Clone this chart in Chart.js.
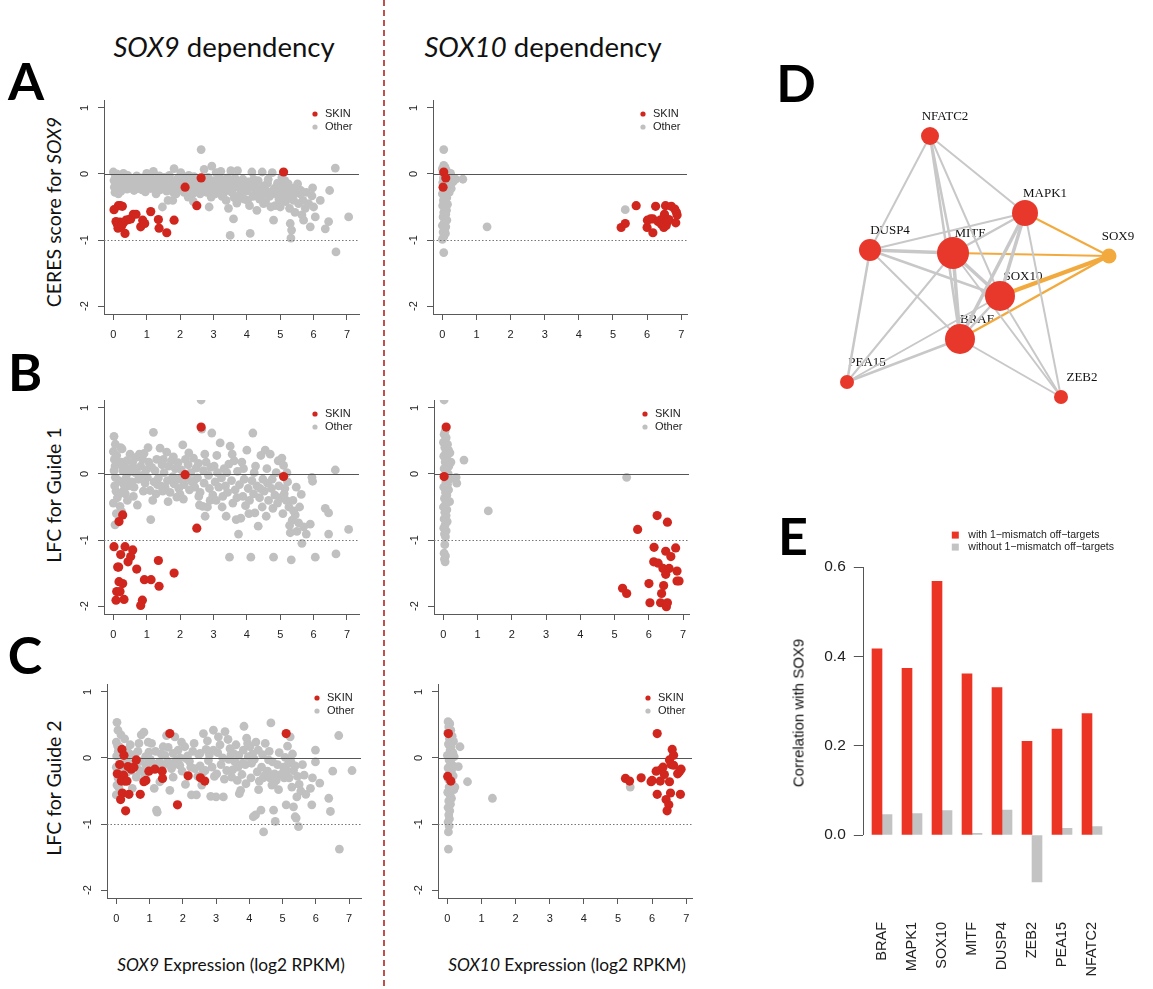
<!DOCTYPE html>
<html lang="en">
<head>
<meta charset="UTF-8">
<title>SOX9 / SOX10 dependency</title>
<style>
  body { margin: 0; width: 1153px; height: 989px; position: relative; overflow: hidden; background: #fff;
         font-family: Lato, 'Open Sans', sans-serif; color: #111; }
  canvas { position: absolute; }
  .txt { position: absolute; transform: translate(-50%, -50%); white-space: nowrap; line-height: 1; }
  .letter { font-weight: 700; font-size: 52px; color: #000; }
  .coltitle { font-size: 27.5px; }
  .ytitle { font-size: 19.5px; transform: translate(-50%, -50%) rotate(-90deg); }
  .xtitle { font-size: 17.3px; }
  .divider { position: absolute; left: 383px; top: 0; width: 1.6px; height: 989px;
             background: repeating-linear-gradient(to bottom, #c0504d 0 6px, transparent 6px 10px); }
</style>
</head>
<body>
<script src="https://cdn.jsdelivr.net/npm/chart.js@4.4.1/dist/chart.umd.min.js"></script>

<div class="divider"></div>
<div class="txt coltitle" style="left:224px;top:47px"><i>SOX9</i> dependency</div>
<div class="txt coltitle" style="left:543px;top:47px"><i>SOX10</i> dependency</div>

<div class="txt letter" style="left:26px;top:80px">A</div>
<div class="txt letter" style="left:25px;top:371px">B</div>
<div class="txt letter" style="left:25px;top:654px">C</div>
<div class="txt letter" style="left:796px;top:82px">D</div>
<div class="txt letter" style="left:793px;top:535px">E</div>

<div class="txt ytitle" style="left:54px;top:212px">CERES score for <i>SOX9</i></div>
<div class="txt ytitle" style="left:54px;top:495px">LFC for Guide 1</div>
<div class="txt ytitle" style="left:54px;top:788px">LFC for Guide 2</div>
<div class="txt xtitle" style="left:231px;top:965px"><i>SOX9</i> Expression (log2 RPKM)</div>
<div class="txt xtitle" style="left:567px;top:965px"><i>SOX10</i> Expression (log2 RPKM)</div>

<script>
// ---- dependency scatter data: [expression, score] per cell line ----
const exprTicks = [0, 1, 2, 3, 4, 5, 6, 7];
const scoreTicks = [-2, -1, 0, 1];

const sox9CeresSkin = [
  [0.02,-0.54],[0.15,-0.48],[0.21,-0.48],[0.27,-0.49],[0.08,-0.72],[0.12,-0.76],[0.16,-0.80],[0.20,-0.73],
  [0.24,-0.79],[0.14,-0.82],[0.26,-0.77],[0.30,-0.74],[0.38,-0.70],[0.46,-0.69],[0.52,-0.68],[0.60,-0.61],
  [0.68,-0.61],[0.35,-0.90],[0.82,-0.80],[0.88,-0.70],[0.94,-0.75],[1.12,-0.57],[1.35,-0.69],[1.37,-0.82],
  [1.60,-0.89],[1.82,-0.70],[2.15,-0.20],[2.50,-0.48],[2.63,-0.06],[5.10,0.03]
];
const sox9CeresOther = [
  [0.00,0.03],[0.02,-0.10],[0.03,-0.20],[0.05,-0.28],[0.06,-0.05],[0.08,-0.15],[0.10,0.00],[0.11,-0.24],
  [0.13,-0.12],[0.15,-0.30],[0.17,-0.06],[0.19,-0.18],[0.21,-0.10],[0.23,-0.26],[0.25,-0.02],[0.27,-0.14],
  [0.30,0.01],[0.32,-0.20],[0.35,-0.09],[0.38,-0.16],[0.41,-0.23],[0.44,-0.11],[0.47,-0.17],
  [0.52,-0.08],[0.55,-0.20],[0.58,-0.13],[0.62,-0.25],[0.65,-0.05],[0.68,-0.17],[0.72,-0.10],[0.76,-0.22],
  [0.80,-0.14],[0.84,-0.06],[0.88,-0.19],[0.92,-0.11],[0.96,-0.27],[1.00,0.01],
  [1.04,-0.15],[1.08,-0.08],[1.12,-0.22],[1.16,-0.12],[1.20,0.04],[1.24,-0.18],[1.28,-0.30],[1.32,-0.07],
  [1.36,-0.16],[1.40,-0.24],[1.44,-0.10],[1.47,-0.50],[1.48,-0.19],
  [1.52,-0.05],[1.56,-0.14],[1.60,-0.26],[1.64,-0.40],[1.66,-0.09],[1.70,-0.20],[1.74,-0.12],[1.78,-0.40],
  [1.80,-0.28],[1.82,0.08],[1.86,-0.16],[1.90,-0.08],[1.94,-0.22],[1.98,-0.13],
  [2.02,0.02],[2.05,-0.18],[2.08,-0.10],[2.12,-0.28],[2.16,-0.06],[2.20,-0.15],[2.24,-0.35],[2.28,-0.22],
  [2.32,-0.11],[2.36,-0.19],[2.40,-0.42],[2.42,-0.04],[2.46,-0.25],[2.48,-0.14],
  [2.52,-0.20],[2.56,-0.08],[2.60,-0.30],[2.63,0.37],[2.66,-0.16],[2.70,-0.24],[2.72,0.07],[2.76,-0.12],
  [2.80,-0.28],[2.84,-0.05],[2.87,-0.50],[2.90,-0.18],[2.95,0.12],[2.98,-0.22],
  [3.02,-0.10],[3.05,-0.30],[3.08,0.02],[3.12,-0.17],[3.16,-0.25],[3.20,-0.08],[3.22,0.04],[3.26,-0.34],
  [3.30,-0.14],[3.34,-0.22],[3.38,-0.40],[3.42,-0.06],[3.45,-0.52],[3.48,-0.18],
  [3.50,-0.93],[3.52,0.05],[3.55,-0.28],[3.58,-0.12],[3.60,-0.68],[3.62,-0.36],[3.66,-0.20],[3.70,-0.44],
  [3.72,0.05],[3.76,-0.15],[3.80,-0.30],[3.84,-0.24],[3.88,-0.08],[3.92,-0.38],[3.96,-0.18],
  [4.00,-0.26],[4.04,-0.12],[4.08,-0.48],[4.10,-0.90],[4.12,-0.20],[4.15,0.03],[4.18,-0.34],[4.22,-0.16],
  [4.26,-0.28],[4.30,-0.55],[4.34,-0.10],[4.38,-0.38],[4.42,-0.22],[4.46,0.03],[4.48,-0.30],
  [4.52,-0.18],[4.56,-0.42],[4.60,-0.26],[4.64,-0.08],[4.68,-0.34],[4.72,-0.50],[4.76,0.02],[4.80,-0.70],
  [4.82,-0.22],[4.85,-0.48],[4.88,-0.30],[4.92,-0.14],[4.96,-0.38],
  [5.02,-0.25],[5.05,-0.05],[5.08,-0.32],[5.12,-0.18],[5.16,-0.42],[5.20,-0.28],[5.24,-0.15],[5.28,-0.52],
  [5.30,-0.75],[5.32,-0.97],[5.34,-0.85],[5.36,-0.22],[5.40,-0.40],[5.44,-0.58],[5.48,-0.20],
  [5.55,-0.45],[5.60,-0.30],[5.65,-0.62],[5.68,-0.40],[5.75,-0.52],[5.78,-0.28],[5.90,-0.80],[5.95,-0.33],
  [5.97,-0.21],[6.05,-0.65],[6.35,-0.83],[6.45,-0.72],[6.48,-0.25],[6.65,0.09],[6.67,-1.18],[7.05,-0.65],
  [0.07,-0.08],[0.18,-0.22],[0.29,-0.07],[0.43,-0.02],[0.57,-0.16],[0.70,-0.03],[0.86,-0.24],[0.99,-0.13],
  [1.10,-0.04],[1.26,-0.10],[1.38,-0.03],[1.54,-0.20],[1.68,-0.02],[1.88,-0.30],[2.00,-0.22],[2.14,-0.14],
  [2.26,-0.02],[2.38,-0.30],[2.54,-0.12],[2.68,-0.06],[2.82,-0.16],[2.93,-0.35],[3.04,-0.20],[3.18,-0.04],
  [3.32,-0.28],[3.46,-0.12],[3.64,-0.06],[3.78,-0.36],[3.90,-0.20],[4.02,-0.40],[4.20,-0.08],[4.36,-0.24],
  [4.50,-0.45],[4.62,-0.14],[4.74,-0.30],[4.90,-0.22],[5.00,-0.50],[5.14,-0.10],[5.26,-0.34],[5.42,-0.30],
  [5.52,-0.15],[5.62,-0.25],[5.70,-0.70],[5.85,-0.45],[6.00,-0.50],[6.20,-0.40]
];

const sox9Lfc1Skin = [
  [2.63,0.71],[2.15,-0.01],[5.10,-0.04],[2.50,-0.82],[0.28,-0.62],[0.17,-0.72],[0.02,-1.10],[0.35,-1.10],
  [0.22,-1.22],[0.58,-1.15],[0.52,-1.25],[0.44,-1.33],[0.13,-1.41],[0.16,-1.41],[0.70,-1.44],[1.35,-1.31],
  [1.82,-1.50],[0.17,-1.63],[0.28,-1.66],[0.93,-1.60],[1.13,-1.60],[1.37,-1.70],[0.10,-1.78],[0.20,-1.78],
  [0.08,-1.91],[0.32,-1.90],[0.87,-1.91],[0.82,-1.99]
];
const sox9Lfc1Other = [
  [0.02,0.57],[0.00,0.34],[0.03,0.22],[0.05,0.12],[0.02,0.05],[0.06,-0.05],[0.04,-0.18],[0.08,-0.26],
  [0.10,0.28],[0.12,-0.36],[0.00,-0.44],[0.05,-0.77],[0.14,0.15],[0.16,-0.10],[0.18,-0.30],[0.20,-0.49],
  [0.22,0.40],[0.25,-0.57],[0.26,0.38],[0.28,0.05],[0.30,-0.15],[0.32,-0.24],[0.35,0.10],[0.38,-0.06],
  [0.40,0.20],[0.42,-0.40],[0.45,0.02],[0.48,-0.18],
  [0.52,0.08],[0.55,-0.12],[0.58,0.18],[0.62,-0.20],[0.65,0.02],[0.68,0.25],[0.72,-0.47],[0.75,-0.08],
  [0.78,0.30],[0.82,0.12],[0.85,-0.02],[0.88,0.22],[0.92,0.31],[0.95,-0.14],[0.98,0.06],
  [1.02,-0.05],[1.06,0.18],[1.10,-0.25],[1.12,-0.69],[1.15,0.10],[1.20,0.63],[1.22,-0.12],[1.25,0.05],
  [1.28,-0.30],[1.30,0.22],[1.35,-0.06],[1.40,0.39],[1.42,-0.18],[1.46,0.14],[1.48,-0.26],
  [1.52,0.02],[1.55,-0.20],[1.60,0.33],[1.62,-0.10],[1.66,0.12],[1.70,-0.28],[1.74,0.20],[1.78,-0.04],
  [1.82,-0.15],[1.86,0.08],[1.90,-0.35],[1.94,0.17],[1.97,-0.08],
  [2.00,-0.31],[2.04,0.06],[2.08,0.44],[2.12,-0.16],[2.16,0.22],[2.20,-0.06],[2.24,0.14],[2.28,-0.24],
  [2.32,0.02],[2.36,-0.12],[2.40,0.24],[2.44,-0.20],[2.48,0.09],
  [2.52,-0.06],[2.55,0.16],[2.58,-0.47],[2.60,-0.28],[2.63,1.12],[2.65,0.68],[2.68,-0.49],[2.70,0.05],
  [2.72,-0.14],[2.75,-0.64],[2.78,0.18],[2.82,-0.50],[2.85,-0.02],[2.88,-0.22],[2.92,0.10],[2.95,0.62],
  [2.98,-0.32],
  [3.02,0.12],[3.05,-0.12],[3.08,-0.40],[3.12,0.02],[3.16,-0.20],[3.20,0.47],[3.24,-0.06],[3.28,-0.34],
  [3.32,0.08],[3.36,-0.18],[3.38,-0.64],[3.42,-0.28],[3.46,0.15],[3.48,-1.26],[3.50,0.42],
  [3.54,-0.10],[3.58,-0.44],[3.62,0.20],[3.65,-0.24],[3.68,-0.69],[3.72,0.04],[3.75,-0.91],[3.78,-0.16],
  [3.82,-0.67],[3.85,0.18],[3.88,-0.34],[3.92,-0.08],[3.96,-0.48],
  [4.00,0.36],[4.04,-0.22],[4.08,-0.40],[4.12,-1.26],[4.15,-0.10],[4.18,0.62],[4.20,-0.30],[4.24,-0.59],
  [4.26,0.12],[4.30,-0.18],[4.34,-0.79],[4.38,-0.36],[4.42,0.28],[4.46,-0.50],[4.48,-0.08],
  [4.52,-0.26],[4.55,0.36],[4.58,-0.64],[4.62,-0.14],[4.65,-0.40],[4.70,0.30],[4.74,-0.22],[4.78,-0.52],
  [4.80,-1.26],[4.84,-0.32],[4.88,0.02],[4.92,-0.44],[4.96,-0.18],
  [5.02,-0.36],[5.05,0.24],[5.08,-0.60],[5.10,0.13],[5.14,-0.22],[5.18,-0.40],[5.22,-0.12],[5.26,-0.50],
  [5.28,-0.78],[5.30,-0.89],[5.33,-1.30],[5.36,-0.70],[5.40,-0.56],[5.45,-0.62],[5.50,-0.87],
  [5.55,-0.74],[5.63,-0.31],[5.65,-1.05],[5.78,-0.91],[5.90,-0.76],[5.95,-0.05],[5.97,-0.11],[6.05,-1.26],
  [6.35,-0.52],[6.45,-0.59],[6.45,-0.91],[6.65,0.06],[6.67,-1.21],[7.05,-0.84],
  [0.06,0.45],[0.09,-0.60],[0.24,0.18],[0.36,-0.30],[0.50,0.30],[0.60,-0.34],[0.70,0.08],[0.90,-0.26],
  [1.04,0.40],[1.18,-0.40],[1.32,-0.16],[1.50,0.22],[1.64,-0.42],[1.80,0.26],[1.96,-0.22],[2.10,-0.38],
  [2.26,0.32],[2.42,-0.10],[2.56,-0.34],[2.74,0.30],[2.90,-0.40],[3.10,0.28],[3.26,-0.50],[3.40,0.02],
  [3.56,0.30],[3.70,-0.36],[3.90,0.08],[4.06,-0.60],[4.22,0.02],[4.40,-0.22],[4.60,0.08],[4.76,-0.08],
  [4.94,0.20],[5.12,-0.30],[5.20,0.02],[5.38,-0.40],[5.48,-0.20],[5.58,-0.50],[5.70,-0.80]
];

const sox9Lfc2Skin = [
  [1.61,0.37],[5.11,0.37],[0.17,0.13],[0.23,0.04],[0.03,-0.24],[0.10,-0.10],[0.22,-0.26],[0.15,-0.35],
  [0.25,-0.35],[0.32,-0.35],[0.35,-0.13],[0.45,-0.17],[0.53,-0.14],[0.60,-0.03],[0.18,-0.53],[0.38,-0.55],
  [0.13,-0.63],[0.28,-0.80],[0.72,-0.55],[0.83,-0.36],[0.89,-0.34],[0.98,-0.20],[1.16,-0.17],[1.38,-0.20],
  [1.39,-0.31],[1.84,-0.71],[2.16,-0.27],[2.53,-0.30],[2.66,-0.35]
];
const sox9Lfc2Other = [
  [0.02,0.54],[0.05,0.42],[0.00,0.24],[0.04,0.18],[0.10,0.17],[0.01,0.03],[0.00,-0.14],[0.05,-0.30],
  [0.02,-0.41],[0.00,-0.56],[0.08,-0.45],[0.25,0.29],[0.22,0.04],[0.30,0.12],[0.28,-0.05],[0.38,-0.08],
  [0.45,-0.19],[0.48,-0.46],[0.40,0.06],[0.12,-0.20],[0.20,-0.08],[0.35,0.08],
  [0.75,0.35],[0.83,0.39],[0.60,-0.29],[0.70,-0.19],[0.80,-0.21],[0.90,-0.11],[0.96,0.24],[0.98,0.09],
  [0.55,0.05],[0.65,0.10],[0.88,0.02],[0.72,-0.05],
  [1.06,0.22],[1.14,-0.46],[1.21,-0.79],[1.23,-0.82],[1.41,0.17],[1.46,0.04],[1.31,-0.36],[1.51,0.34],
  [1.10,-0.08],[1.25,-0.14],[1.35,0.06],[1.45,-0.10],
  [1.61,-0.49],[1.71,0.07],[1.76,0.32],[1.86,0.12],[1.91,-0.11],[1.96,0.24],[1.71,-0.29],[1.55,-0.05],
  [1.66,-0.16],[1.80,-0.04],[1.92,0.00],
  [2.06,0.17],[2.14,0.03],[2.24,-0.14],[2.26,-0.56],[2.41,-0.56],[2.36,-0.16],[2.11,-0.01],[2.30,0.10],
  [2.45,-0.28],[2.20,-0.05],[2.48,0.05],
  [2.62,0.37],[2.52,0.07],[2.57,-0.41],[2.67,-0.19],[2.77,-0.04],[2.84,-0.58],[2.92,0.42],[2.92,0.12],
  [2.70,0.13],[2.60,-0.22],[2.95,-0.28],[2.80,0.05],
  [3.07,0.32],[3.00,-0.59],[3.22,-0.59],[3.27,0.40],[3.32,-0.19],[3.42,0.14],[3.47,-0.29],[3.05,0.08],
  [3.15,-0.10],[3.12,0.20],[3.38,-0.02],[3.25,-0.32],[3.45,0.05],
  [3.52,0.07],[3.57,-0.06],[3.64,-0.34],[3.70,-0.54],[3.74,-0.49],[3.82,0.12],[3.84,0.48],[3.90,-0.39],
  [3.97,0.02],[3.60,0.20],[3.66,-0.14],[3.78,-0.25],[3.88,-0.10],[3.95,0.22],
  [4.02,0.17],[4.07,-0.08],[4.12,-0.89],[4.19,-0.86],[4.24,-0.21],[4.27,0.12],[4.35,-0.79],[4.43,-1.12],
  [4.37,-0.14],[4.05,-0.30],[4.15,-0.02],[4.30,-0.35],[4.40,0.05],[4.47,-0.26],[4.20,0.24],
  [4.48,0.22],[4.58,-0.03],[4.65,0.53],[4.68,-0.41],[4.73,-0.79],[4.78,-0.96],[4.73,-0.39],[4.81,-0.34],
  [4.55,-0.20],[4.62,-0.30],[4.85,-0.10],[4.90,0.08],[4.95,-0.25],[4.70,-0.06],
  [5.03,-0.14],[5.08,0.01],[5.13,-0.19],[5.11,-0.71],[5.23,0.32],[5.28,-0.44],[5.33,-0.74],[5.38,-0.89],
  [5.41,-0.91],[5.48,-1.04],[5.43,-0.59],[5.33,-0.19],[5.20,-0.30],[5.15,0.18],[5.45,-0.28],[5.38,-0.12],
  [5.25,-0.05],
  [5.65,-0.26],[5.84,-0.46],[5.88,-0.71],[5.99,0.12],[5.99,-0.06],[6.12,-0.38],[6.39,-0.61],[6.44,-0.81],
  [6.51,-0.20],[6.69,0.34],[6.71,-1.38],[7.09,-0.19],[5.55,-0.50],[5.60,-0.10],
  [0.06,0.10],[0.14,0.35],[0.18,-0.12],[0.32,-0.22],[0.42,0.20],[0.58,-0.12],[0.68,0.22],[0.86,-0.28],
  [1.02,-0.02],[1.18,0.10],[1.30,-0.06],[1.56,0.16],[1.74,-0.10],[1.98,-0.20],[2.08,-0.40],[2.34,0.22],
  [2.52,-0.12],[2.74,0.26],[2.88,-0.14],[3.02,-0.24],[3.20,0.00],[3.36,0.28],[3.50,-0.18],[3.68,0.04],
  [3.80,-0.08],[3.92,0.30],[4.10,0.06],[4.28,-0.48],[4.42,-0.30],[4.60,0.10],[4.76,-0.24],[4.88,-0.48],
  [5.05,-0.30],[5.18,-0.08],[5.30,0.06],[5.50,-0.40],[5.70,-0.55],[5.90,-0.30]
];

const sox10CeresSkin = [
  [0.04,0.03],[0.10,-0.06],[0.02,-0.20],
  [5.24,-0.81],[5.36,-0.75],[5.68,-0.48],[6.00,-0.81],[6.01,-0.70],[6.10,-0.68],[6.17,-0.89],[6.17,-0.68],
  [6.25,-0.49],[6.32,-0.72],[6.38,-0.70],[6.42,-0.76],[6.46,-0.68],[6.49,-0.81],[6.51,-0.61],[6.52,-0.74],
  [6.54,-0.48],[6.56,-0.78],[6.60,-0.72],[6.64,-0.69],[6.71,-0.49],[6.81,-0.53],[6.84,-0.74],[6.86,-0.58],
  [6.88,-0.62]
];
const sox10CeresOther = [
  [0.00,0.08],[0.04,0.13],[0.08,0.10],[0.12,0.05],[0.02,0.02],[0.06,-0.01],[0.16,0.02],[0.20,0.00],
  [0.24,0.01],[0.03,-0.06],[0.09,-0.09],[0.14,-0.05],[0.18,-0.12],[0.01,-0.13],[0.07,-0.16],[0.12,-0.19],
  [0.22,-0.16],[0.04,-0.24],[0.10,-0.26],[0.16,-0.22],[0.20,-0.28],[0.00,-0.30],[0.06,-0.33],[0.13,-0.36],
  [0.03,-0.40],[0.09,-0.42],[0.15,-0.46],[0.01,-0.48],[0.07,-0.51],[0.12,-0.55],[0.04,-0.58],[0.10,-0.61],
  [0.02,-0.65],[0.08,-0.68],[0.13,-0.70],[0.05,-0.74],[0.00,-0.78],[0.10,-0.80],[0.06,-0.84],[0.02,-0.88],
  [0.09,-0.90],[0.04,-0.95],[0.00,-0.99],
  [0.04,0.37],[0.04,-1.19],[0.31,-0.12],[0.39,-0.08],[0.60,-0.08],[0.26,-0.22],[1.31,-0.80],[5.36,-0.54]
];

const sox10Lfc1Skin = [
  [0.08,0.71],[0.02,-0.04],
  [5.23,-1.73],[5.35,-1.81],[5.67,-0.84],[6.00,-1.66],[6.03,-1.95],[6.14,-1.33],[6.15,-1.11],[6.24,-0.63],
  [6.27,-1.35],[6.34,-1.95],[6.37,-1.81],[6.41,-1.43],[6.43,-1.69],[6.49,-1.17],[6.49,-1.52],[6.51,-2.01],
  [6.54,-0.73],[6.54,-1.95],[6.59,-1.43],[6.64,-1.25],[6.78,-1.12],[6.82,-1.47],[6.82,-1.62],[6.88,-1.62]
];
const sox10Lfc1Other = [
  [0.02,1.12],[0.05,0.65],[0.02,0.60],[0.08,0.55],[0.00,0.48],[0.12,0.45],[0.04,0.40],[0.15,0.36],
  [0.07,0.32],[0.01,0.27],[0.11,0.22],[0.05,0.18],[0.16,0.12],[0.02,0.08],[0.09,0.04],[0.14,0.00],
  [0.04,-0.04],[0.18,-0.08],[0.07,-0.12],[0.12,-0.16],[0.01,-0.20],[0.15,-0.24],[0.06,-0.28],[0.10,-0.32],
  [0.03,-0.37],[0.13,-0.41],[0.07,-0.45],[0.00,-0.50],[0.10,-0.54],[0.04,-0.58],[0.08,-0.63],[0.02,-0.68],
  [0.11,-0.72],[0.05,-0.77],[0.01,-0.82],[0.08,-0.86],[0.03,-0.91],[0.06,-0.95],[0.04,-1.07],[0.02,-1.20],
  [0.06,-1.24],[0.03,-1.29],[0.05,-1.33],
  [0.19,0.32],[0.22,0.18],[0.60,0.21],[0.37,-0.05],[0.39,-0.14],[0.18,-0.42],[1.31,-0.56],[5.35,-0.05]
];

const sox10Lfc2Skin = [
  [0.03,0.37],[0.01,-0.28],[0.10,-0.35],
  [5.22,-0.31],[5.34,-0.35],[5.68,-0.30],[5.97,-0.36],[6.00,-0.34],[6.12,-0.20],[6.15,0.37],[6.15,-0.55],
  [6.24,-0.35],[6.26,-0.18],[6.32,-0.14],[6.36,-0.25],[6.41,-0.63],[6.44,-0.80],[6.49,-0.71],[6.51,-0.03],
  [6.51,-0.36],[6.54,-0.53],[6.56,-0.10],[6.59,0.13],[6.63,0.04],[6.63,-0.11],[6.75,-0.24],[6.80,-0.21],
  [6.83,-0.55],[6.85,-0.17]
];
const sox10Lfc2Other = [
  [0.02,0.55],[0.07,0.52],[0.04,0.47],[0.10,0.42],[0.01,0.38],[0.14,0.33],[0.06,0.29],[0.18,0.25],
  [0.03,0.21],[0.11,0.17],[0.08,0.12],[0.16,0.08],[0.00,0.04],[0.13,0.01],[0.05,-0.03],[0.20,0.02],
  [0.09,-0.07],[0.15,-0.11],[0.02,-0.15],[0.12,-0.19],[0.06,-0.23],[0.17,-0.27],[0.03,-0.32],[0.10,-0.36],
  [0.14,-0.40],[0.05,-0.44],[0.19,-0.48],[0.01,-0.52],[0.08,-0.56],[0.12,-0.61],[0.04,-0.65],[0.09,-0.70],
  [0.02,-0.75],[0.07,-0.80],[0.04,-0.86],[0.06,-0.92],[0.02,-0.97],[0.05,-1.03],[0.03,-1.12],[0.03,-1.38],
  [0.37,0.17],[0.32,-0.13],[0.22,-0.44],[0.59,-0.36],[1.32,-0.61],[5.36,-0.44]
];

// ---- co-dependency network ----
const networkGenes = ['NFATC2', 'MAPK1', 'DUSP4', 'MITF', 'SOX9', 'SOX10', 'BRAF', 'PEA15', 'ZEB2'];
const networkX = [140, 235, 80, 163, 319, 210, 170, 57, 271];
const networkY = [36, 113, 150, 153, 156, 196, 239, 282, 297];
const networkSize = [9, 13, 11, 16, 7.5, 15, 15, 7, 7];
const networkEdges = [
  ['NFATC2', 'DUSP4', 2], ['NFATC2', 'MAPK1', 2], ['NFATC2', 'MITF', 2.5], ['NFATC2', 'BRAF', 2.5],
  ['NFATC2', 'SOX10', 2], ['MAPK1', 'DUSP4', 2], ['MAPK1', 'MITF', 2.5], ['MAPK1', 'SOX10', 3.5],
  ['MAPK1', 'BRAF', 3.5], ['MAPK1', 'ZEB2', 2], ['DUSP4', 'MITF', 3.5], ['DUSP4', 'SOX10', 2.5],
  ['DUSP4', 'BRAF', 2], ['DUSP4', 'PEA15', 2.5], ['MITF', 'SOX10', 3.5], ['MITF', 'BRAF', 3.5],
  ['MITF', 'PEA15', 2], ['MITF', 'ZEB2', 2], ['SOX10', 'BRAF', 2.5], ['SOX10', 'ZEB2', 2],
  ['SOX10', 'PEA15', 2], ['BRAF', 'PEA15', 2.5], ['BRAF', 'ZEB2', 2],
  ['SOX9', 'MAPK1', 2], ['SOX9', 'MITF', 2], ['SOX9', 'SOX10', 4], ['SOX9', 'BRAF', 2.5]
];

// ---- correlation with SOX9 ----
const corrGenes = ['BRAF', 'MAPK1', 'SOX10', 'MITF', 'DUSP4', 'ZEB2', 'PEA15', 'NFATC2'];
const corrWithMismatch = [0.417, 0.373, 0.568, 0.361, 0.330, 0.210, 0.237, 0.272];
const corrWithoutMismatch = [0.046, 0.048, 0.055, 0.004, 0.056, -0.105, 0.015, 0.019];
const corrTicks = [0, 0.2, 0.4, 0.6];

// ---- styling ----
Chart.defaults.font.family = "'Liberation Sans', Arial, Helvetica, sans-serif";
Chart.defaults.color = '#222';

const SKIN_RED = '#d0261d';
const OTHER_GREY = '#c0c0c0';
const AXIS_GREY = '#595959';
const NODE_RED = '#e8382b';
const SOX9_ORANGE = '#f2aa3e';
const EDGE_GREY = '#c8c8c8';
const BAR_RED = '#ec3424';
const BAR_GREY = '#c3c3c3';

function addCanvas(left, top, width, height) {
  const c = document.createElement('canvas');
  c.width = width;
  c.height = height;
  c.style.left = left + 'px';
  c.style.top = top + 'px';
  document.body.appendChild(c);
  return c;
}

// horizontal guides at 0 (solid) and -1 (dotted), drawn over grey points, under red ones
const refLinePlugin = {
  id: 'refLines',
  afterDatasetDraw(chart, args) {
    if (args.index !== 1) return;
    const {ctx, chartArea: a, scales: {y}} = chart;
    ctx.save();
    [[0, [], '#555'], [-1, [1.5, 2], '#777']].forEach(([v, dash, col]) => {
      const py = Math.round(y.getPixelForValue(v)) + 0.5;
      ctx.setLineDash(dash);
      ctx.strokeStyle = col;
      ctx.lineWidth = 1;
      ctx.beginPath();
      ctx.moveTo(a.left, py);
      ctx.lineTo(a.right, py);
      ctx.stroke();
    });
    ctx.restore();
  }
};

// small SKIN / Other key in the top right corner of each panel
const dotLegendPlugin = {
  id: 'dotLegend',
  afterDraw(chart) {
    const {ctx, chartArea: a} = chart;
    ctx.save();
    ctx.font = "11px 'Liberation Sans', Arial, sans-serif";
    ctx.textBaseline = 'middle';
    chart.data.datasets.forEach((ds, i) => {
      const y = a.top + 14 + i * 13;
      ctx.fillStyle = ds.backgroundColor;
      ctx.beginPath();
      ctx.arc(a.right - 44, y, 2.6, 0, Math.PI * 2);
      ctx.fill();
      ctx.fillStyle = '#222';
      ctx.fillText(ds.label, a.right - 34, y);
    });
    ctx.restore();
  }
};

function scatterPanel(box, xRange, skin, other) {
  const yAxisW = 60, xAxisH = 36, padTop = 20, padRight = 8;
  const canvas = addCanvas(box.left - yAxisW, box.top - padTop,
    box.right - box.left + yAxisW + padRight, box.bottom - box.top + padTop + xAxisH);
  const axisGrid = { drawOnChartArea: false, drawTicks: true, tickLength: 6, color: AXIS_GREY, lineWidth: 1 };
  return new Chart(canvas, {
    type: 'scatter',
    data: {
      datasets: [
        { label: 'SKIN', data: skin.map(([x, y]) => ({x, y})), backgroundColor: SKIN_RED,
          pointRadius: 4.6, borderWidth: 0 },
        { label: 'Other', data: other.map(([x, y]) => ({x, y})), backgroundColor: OTHER_GREY,
          pointRadius: 4.4, borderWidth: 0 }
      ]
    },
    options: {
      responsive: false, animation: false, devicePixelRatio: 1, events: [],
      layout: { autoPadding: false, padding: { top: padTop, right: padRight, left: 0, bottom: 0 } },
      plugins: { legend: { display: false }, tooltip: { enabled: false } },
      scales: {
        x: {
          type: 'linear', min: xRange[0], max: xRange[1],
          afterBuildTicks: s => { s.ticks = exprTicks.map(value => ({value})); },
          afterFit: s => { s.height = xAxisH; },
          grid: axisGrid,
          border: { display: true, color: AXIS_GREY, width: 1 },
          ticks: { font: { size: 11 }, padding: 8, maxRotation: 0, autoSkip: false }
        },
        y: {
          type: 'linear', min: -2.12, max: 1.12,
          afterBuildTicks: s => { s.ticks = scoreTicks.map(value => ({value})); },
          afterFit: s => { s.width = yAxisW; },
          grid: axisGrid,
          border: { display: true, color: AXIS_GREY, width: 1 },
          ticks: { font: { size: 11 }, padding: 8, minRotation: 90, maxRotation: 90,
                   crossAlign: 'center', autoSkip: false }
        }
      }
    },
    plugins: [refLinePlugin, dotLegendPlugin]
  });
}

const sox9Range = [-0.28, 7.36];
const sox10Range = [-0.275, 7.17];
scatterPanel({left: 104, right: 359, top: 100, bottom: 314}, sox9Range, sox9CeresSkin, sox9CeresOther);
scatterPanel({left: 104, right: 359, top: 400, bottom: 614}, sox9Range, sox9Lfc1Skin, sox9Lfc1Other);
scatterPanel({left: 107, right: 361, top: 684, bottom: 898}, sox9Range, sox9Lfc2Skin, sox9Lfc2Other);
scatterPanel({left: 433, right: 687, top: 100, bottom: 314}, sox10Range, sox10CeresSkin, sox10CeresOther);
scatterPanel({left: 434, right: 689, top: 400, bottom: 614}, sox10Range, sox10Lfc1Skin, sox10Lfc1Other);
scatterPanel({left: 438, right: 692, top: 684, bottom: 898}, sox10Range, sox10Lfc2Skin, sox10Lfc2Other);

// ---- network (D) ----
const nodePoint = g => {
  const i = networkGenes.indexOf(g);
  return {x: networkX[i], y: networkY[i]};
};
const labelShiftX = {NFATC2: 15, MAPK1: 20, DUSP4: 20, MITF: 17, SOX9: 9, SOX10: 23, BRAF: 17, PEA15: 20, ZEB2: 21};

const geneLabelPlugin = {
  id: 'geneLabels',
  beforeDatasetsDraw(chart) {
    const {ctx, scales: {x, y}} = chart;
    ctx.save();
    ctx.font = "13px 'Liberation Serif', 'Times New Roman', serif";
    ctx.fillStyle = '#111';
    ctx.textAlign = 'center';
    ctx.textBaseline = 'middle';
    networkGenes.forEach((g, i) => {
      ctx.fillText(g, x.getPixelForValue(networkX[i]) + labelShiftX[g], y.getPixelForValue(networkY[i]) - 19);
    });
    ctx.restore();
  }
};

const netW = 363, netH = 310;
new Chart(addCanvas(790, 100, netW, netH), {
  type: 'scatter',
  data: {
    datasets: [
      { data: networkGenes.map(nodePoint), pointRadius: networkSize, borderWidth: 0,
        backgroundColor: networkGenes.map(g => g === 'SOX9' ? SOX9_ORANGE : NODE_RED) },
      ...networkEdges.map(([a, b, w]) => ({
        data: [nodePoint(a), nodePoint(b)], showLine: true, pointRadius: 0, borderWidth: w,
        borderColor: (a === 'SOX9' || b === 'SOX9') ? SOX9_ORANGE : EDGE_GREY
      }))
    ]
  },
  options: {
    responsive: false, animation: false, devicePixelRatio: 1, events: [],
    layout: { autoPadding: false, padding: 0 },
    plugins: { legend: { display: false }, tooltip: { enabled: false } },
    scales: {
      x: { type: 'linear', min: 0, max: netW, display: false },
      y: { type: 'linear', min: 0, max: netH, reverse: true, display: false }
    }
  },
  plugins: [geneLabelPlugin]
});

// ---- correlation bars (E) ----
// y axis line only spans the labelled ticks, like base R
const axisSpanPlugin = {
  id: 'axisSpan',
  afterDraw(chart) {
    const {ctx, chartArea: a, scales: {y}} = chart;
    const px = Math.round(a.left) + 0.5;
    ctx.save();
    ctx.strokeStyle = '#555';
    ctx.lineWidth = 1;
    ctx.beginPath();
    ctx.moveTo(px, y.getPixelForValue(corrTicks[0]));
    ctx.lineTo(px, y.getPixelForValue(corrTicks[corrTicks.length - 1]));
    ctx.stroke();
    ctx.restore();
  }
};

const barLegendPlugin = {
  id: 'barLegend',
  afterDraw(chart) {
    const {ctx, chartArea: a} = chart;
    ctx.save();
    ctx.font = "10.5px 'Liberation Sans', Arial, sans-serif";
    ctx.textBaseline = 'middle';
    chart.data.datasets.forEach((ds, i) => {
      const y = a.top - 23 + i * 12;
      ctx.fillStyle = ds.backgroundColor;
      ctx.fillRect(a.left + 89, y - 3.5, 7, 7);
      ctx.fillStyle = '#222';
      ctx.fillText(ds.label, a.left + 105.5, y);
    });
    ctx.restore();
  }
};

const barTop = 520, barLeft = 760, barW = 380, barH = 469;
new Chart(addCanvas(barLeft, barTop, barW, barH), {
  type: 'bar',
  data: {
    datasets: [
      { label: 'with 1\u2212mismatch off\u2212targets', backgroundColor: BAR_RED, barThickness: 10,
        data: corrWithMismatch.map((v, i) => ({x: i * 3 + 2, y: v})) },
      { label: 'without 1\u2212mismatch off\u2212targets', backgroundColor: BAR_GREY, barThickness: 10,
        data: corrWithoutMismatch.map((v, i) => ({x: i * 3 + 2, y: v})) }
    ]
  },
  options: {
    responsive: false, animation: false, devicePixelRatio: 1, events: [],
    layout: { autoPadding: false, padding: { top: 38.1, right: 28.8, left: 0, bottom: 0 } },
    plugins: { legend: { display: false }, tooltip: { enabled: false } },
    scales: {
      x: {
        type: 'linear', min: 0.08, max: 24.92, offset: false,
        afterBuildTicks: s => { s.ticks = corrGenes.map((g, i) => ({value: i * 3 + 2})); },
        afterFit: s => { s.height = barH - 386.5; },
        grid: { display: false, drawTicks: false, offset: false },
        border: { display: false },
        ticks: { callback: (v, i) => corrGenes[i], minRotation: 90, maxRotation: 90, autoSkip: false,
                 padding: 15.5, font: { size: 14.5 } }
      },
      y: {
        type: 'linear', min: -0.16, max: 0.62,
        afterBuildTicks: s => { s.ticks = corrTicks.map(value => ({value})); },
        afterFit: s => { s.width = 102.8; },
        grid: { drawOnChartArea: false, drawTicks: true, tickLength: 9, color: '#555' },
        border: { display: false },
        ticks: { callback: v => v.toFixed(1), padding: 8, font: { size: 15.5 } }
      }
    }
  },
  plugins: [axisSpanPlugin, barLegendPlugin]
});
</script>
<div class="txt" style="left:798px;top:713px;font-family:'Liberation Sans',Arial,sans-serif;font-size:15px;transform:translate(-50%,-50%) rotate(-90deg)">Correlation with SOX9</div>
</body>
</html>
